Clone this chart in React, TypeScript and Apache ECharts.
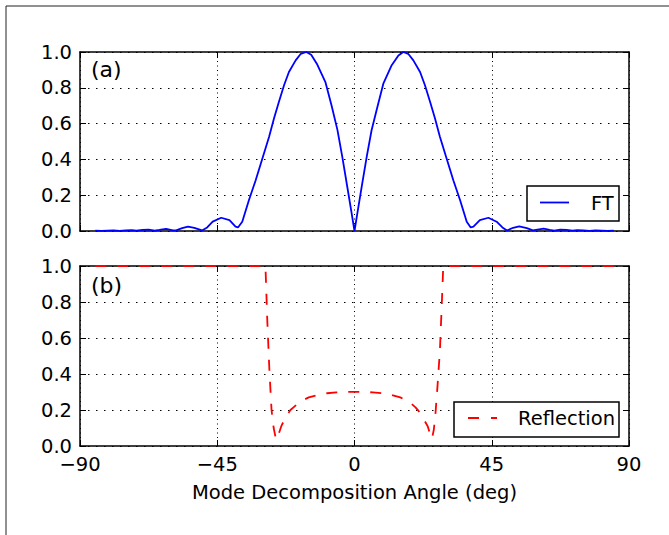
import React, { useEffect, useRef } from "react";
import * as echarts from "echarts";

// ---- data ----
const ftAngles = [
  -85, -83, -81, -79, -77, -75, -73, -71.5, -69.5, -67.5, -65.5, -64, -61.8, -59.5, -58.5, -56.5, -54.6, -52.5, -50, -48.3,
  -46.5, -43.7, -41, -39, -38.2, -36.8, -34.6, -32.4, -30.2, -28, -26.4, -24.8, -23.1, -21.5, -19.3, -17.6, -15.8, -14.2,
  -12.2, -9.5, -7.5, -5.6, -4, -2.4, -1, 0,
  1, 2.35, 4, 5.6, 7.5, 9.45, 12.2, 14.4, 16, 17.6, 19.3, 21.5, 23.1, 24.8, 26.4, 28, 30.2, 32.4, 34.6, 36.8, 38.1, 39,
  41.1, 43.9, 46.6, 48.5, 50, 52, 54, 56.5, 58.5, 60, 62, 64, 65.5, 67.5, 69.5, 71.5, 73, 75, 77, 79, 81, 83, 85,
];
const ftValues = [
  0.002, 0.001, 0.002, 0.003, 0.001, 0.004, 0.005, 0.002, 0.006, 0.008, 0.002, 0.006, 0.012, 0.003, 0.004, 0.016, 0.025, 0.018,
  0.003, 0.02, 0.052, 0.074, 0.061, 0.024, 0.02, 0.052, 0.173, 0.284, 0.405, 0.526, 0.628, 0.721, 0.814, 0.888, 0.953, 0.99,
  1.0, 0.985, 0.93, 0.83, 0.7, 0.565, 0.414, 0.25, 0.105, 0.0,
  0.105, 0.247, 0.414, 0.563, 0.693, 0.823, 0.926, 0.981, 1.0, 0.99, 0.953, 0.888, 0.814, 0.721, 0.628, 0.526, 0.405, 0.284,
  0.173, 0.052, 0.02, 0.024, 0.061, 0.074, 0.052, 0.02, 0.003, 0.018, 0.026, 0.016, 0.003, 0.008, 0.013, 0.006, 0.002, 0.008,
  0.006, 0.002, 0.005, 0.004, 0.001, 0.003, 0.002, 0.001, 0.002,
];

const reflAngles = [
  -85, -80, -70, -60, -50, -40, -32, -29.2, -28.6, -27.9, -27.2, -26.5, -25.9, -25.4, -24.8, -24, -23, -22, -21, -20, -18, -15,
  -12, -9, -6, -3, 0, 3, 6, 9, 12, 15, 18, 20, 21, 22, 23, 24, 24.8, 25.4, 26, 26.5, 27.2, 28, 28.6, 29.1, 32, 40, 50, 60, 70,
  80, 85,
];
const reflValues = [
  1, 1, 1, 1, 1, 1, 1, 1, 0.7, 0.42, 0.2, 0.1, 0.05, 0.035, 0.07, 0.11, 0.145, 0.175, 0.2, 0.215, 0.245, 0.27, 0.284, 0.293,
  0.298, 0.3, 0.301, 0.3, 0.298, 0.293, 0.284, 0.27, 0.245, 0.215, 0.195, 0.17, 0.14, 0.11, 0.065, 0.04, 0.09, 0.17, 0.33, 0.53,
  0.78, 1, 1, 1, 1, 1, 1, 1, 1,
];

const xTicks = [-90, -45, 0, 45, 90];
const yTicks = [0, 0.2, 0.4, 0.6, 0.8, 1.0];
const xLabel = "Mode Decomposition Angle (deg)";
const panelLabels = ["(a)", "(b)"];
const legendNames = ["FT", "Reflection"];

const FONT = "DejaVu Sans";
const FS = 19.5;

function fmtX(v: number) {
  return v < 0 ? "\u2212" + Math.abs(v) : String(v);
}

export default function App() {
  const ref = useRef<HTMLDivElement>(null);
  useEffect(() => {
    if (!ref.current) return;
    const chart = echarts.init(ref.current, null, { renderer: "svg" });
    const grids = [
      { left: 80, top: 52, width: 549, height: 179 },
      { left: 80, top: 266, width: 549, height: 180 },
    ];
    const axisLine = { show: true, onZero: false, lineStyle: { color: "#000", width: 1.5 } };
    const axisTick = { show: true, inside: true, length: 6, lineStyle: { color: "#000", width: 1 } };
    const xBase = { type: "value", min: xTicks[0], max: xTicks[xTicks.length - 1], interval: 45 };
    const yBase = { type: "value", min: yTicks[0], max: yTicks[yTicks.length - 1], interval: 0.2 };
    const xAxes: any[] = [];
    const yAxes: any[] = [];
    [0, 1].forEach((g) => {
      xAxes.push({
        ...xBase,
        gridIndex: g,
        position: "bottom",
        axisLine,
        axisTick,
        axisLabel: {
          show: g === 1,
          formatter: fmtX,
          margin: 8,
          color: "#000",
          fontFamily: FONT,
          fontSize: FS,
        },
        splitLine: { show: true, lineStyle: { color: "#000", width: 1, type: [1, 3.5] } },
        name: g === 1 ? xLabel : "",
        nameLocation: "middle",
        nameGap: 36,
        nameTextStyle: { color: "#000", fontFamily: FONT, fontSize: FS },
      });
      xAxes.push({
        ...xBase,
        gridIndex: g,
        position: "top",
        axisLine,
        axisTick,
        axisLabel: { show: false },
        splitLine: { show: false },
      });
      yAxes.push({
        ...yBase,
        gridIndex: g,
        position: "left",
        axisLine,
        axisTick,
        axisLabel: {
          show: true,
          formatter: (v: number) => v.toFixed(1),
          margin: 8,
          color: "#000",
          fontFamily: FONT,
          fontSize: FS,
        },
        splitLine: { show: true, lineStyle: { color: "#000", width: 1, type: [1.5, 6.5] } },
      });
      yAxes.push({
        ...yBase,
        gridIndex: g,
        position: "right",
        axisLine,
        axisTick,
        axisLabel: { show: false },
        splitLine: { show: false },
      });
    });

    const ftData = ftAngles.map((a, i) => [a, ftValues[i]]);
    const reflData = reflAngles.map((a, i) => [a, reflValues[i]]);

    const textStyle = (x: number, y: number, text: string, size = FS) => ({
      text,
      x,
      y,
      fill: "#000",
      fontFamily: FONT,
      fontSize: size,
      textAlign: "left",
      textVerticalAlign: "middle",
      align: "left",
      verticalAlign: "middle",
    });

    chart.setOption({
      animation: false,
      backgroundColor: "#fff",
      grid: grids,
      xAxis: xAxes,
      yAxis: yAxes,
      series: [
        {
          name: legendNames[0],
          type: "line",
          xAxisIndex: 0,
          yAxisIndex: 0,
          data: ftData,
          showSymbol: false,
          clip: false,
          lineStyle: { color: "#0000ff", width: 1.8 },
          z: 5,
        },
        {
          name: legendNames[1],
          type: "line",
          xAxisIndex: 2,
          yAxisIndex: 2,
          data: reflData,
          showSymbol: false,
          clip: false,
          lineStyle: { color: "#ff0000", width: 1.8, type: [11, 11] },
          z: 5,
        },
      ],
      graphic: [
        {
          type: "rect",
          shape: { x: 6, y: 6, width: 700, height: 600 },
          style: { fill: "none", stroke: "#222", lineWidth: 1 },
          z: 0,
        },
        { type: "text", style: textStyle(91, 69, panelLabels[0], 22), z: 100 },
        { type: "text", style: textStyle(91, 285, panelLabels[1], 22), z: 100 },
        // legend FT
        {
          type: "rect",
          shape: { x: 527, y: 186, width: 92, height: 35 },
          style: { fill: "#fff", stroke: "#000", lineWidth: 1.5 },
          z: 100,
        },
        {
          type: "line",
          shape: { x1: 540, y1: 202.5, x2: 569, y2: 202.5 },
          style: { stroke: "#0000ff", lineWidth: 1.8 },
          z: 101,
        },
        { type: "text", style: textStyle(591, 203, legendNames[0]), z: 101 },
        // legend Reflection
        {
          type: "rect",
          shape: { x: 454, y: 402, width: 165, height: 35 },
          style: { fill: "#fff", stroke: "#000", lineWidth: 1.5 },
          z: 100,
        },
        {
          type: "line",
          shape: { x1: 468, y1: 418, x2: 497, y2: 418 },
          style: { stroke: "#ff0000", lineWidth: 1.8, lineDash: [11, 12] },
          z: 101,
        },
        { type: "text", style: textStyle(518, 418, legendNames[1]), z: 101 },
      ],
    });
    return () => chart.dispose();
  }, []);
  return (
    <div
      ref={ref}
      style={{ position: "fixed", left: 0, top: 0, width: 669, height: 535, background: "#fff" }}
    />
  );
}
